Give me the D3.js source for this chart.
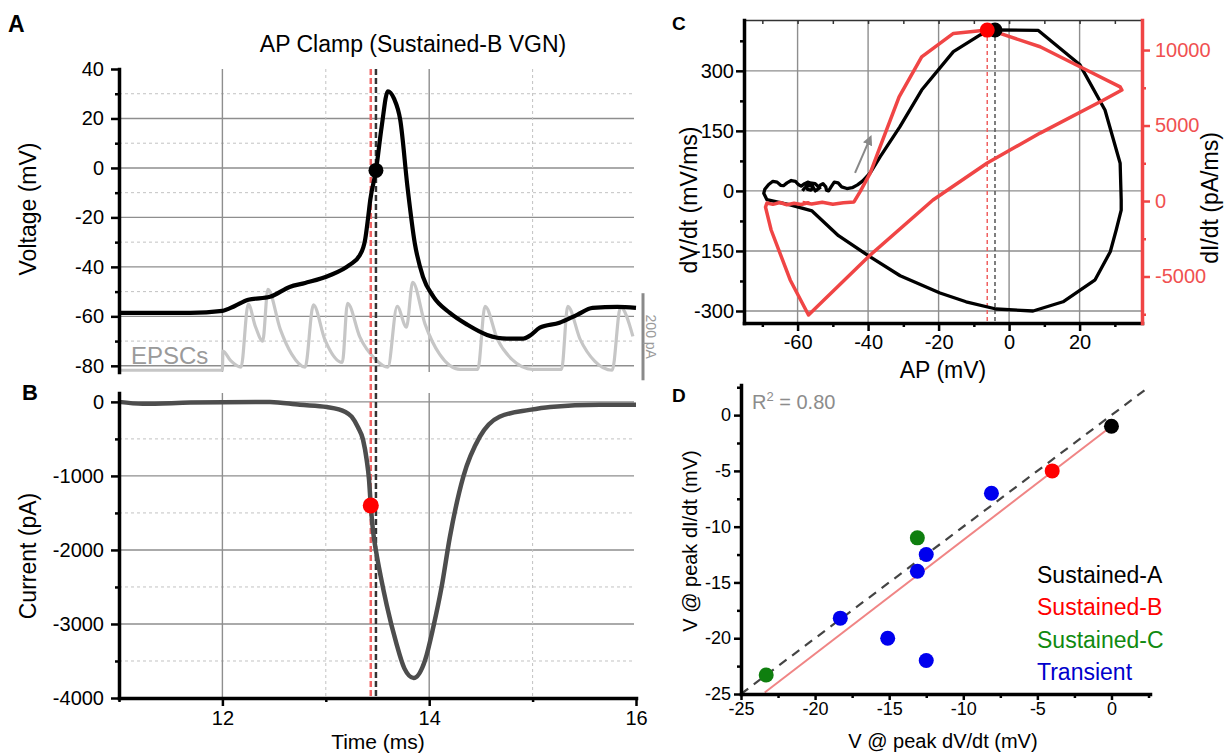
<!DOCTYPE html>
<html>
<head>
<meta charset="utf-8">
<title>AP clamp</title>
<script src="https://cdn.jsdelivr.net/npm/d3@7/dist/d3.min.js"></script>
<style>
  body { margin: 0; background: #fff; }
  text { font-family: "Liberation Sans", Arial, sans-serif; }
</style>
</head>
<body>
<svg id="chart" width="1225" height="755"></svg>
<script>
// ---- values ----

// A: command voltage (mV) against time (ms)
const apTime = [11.00, 11.69, 12.00, 12.12, 12.25, 12.46, 12.65, 12.80, 13.04, 13.23, 13.33, 13.38, 13.41, 13.43, 13.485, 13.54, 13.60, 13.66, 13.72, 13.79, 13.86, 13.94, 14.04, 14.20, 14.37, 14.56, 14.75, 14.91, 14.97, 15.07, 15.26, 15.43, 15.58, 15.82, 16.00];
const apVolt = [-58.6, -58.6, -57.8, -55.8, -53.3, -52.1, -48.1, -46.5, -43.4, -39.2, -35.2, -29.1, -19.8, -12.9, -1.0, 16.6, 31.0, 28.0, 19.4, -7.7, -30.3, -44.0, -52.0, -58.6, -63.4, -67.5, -69.0, -69.0, -67.9, -64.6, -62.6, -59.4, -56.6, -56.2, -56.6];

// A: EPSC template (pA, drawn upward) used to build the command
const epscTime = [11.00, 12.00, 12.005, 12.08, 12.18, 12.25, 12.32, 12.39, 12.44, 12.56, 12.67, 12.80, 12.88, 12.99, 13.16, 13.21, 13.33, 13.48, 13.60, 13.69, 13.78, 13.84, 13.96, 14.10, 14.30, 14.47, 14.54, 14.66, 14.80, 15.00, 15.28, 15.34, 15.46, 15.60, 15.77, 15.85, 15.97];
const epscAmp = [0, 0, 44, 22, 7, 152, 100, 67, 186, 94, 37, 7, 150, 71, 18, 154, 76, 25, 7, 147, 99, 202, 106, 37, 2, 2, 147, 71, 25, 2, 2, 147, 71, 21, 0, 145, 78];

// B: clamp current (pA)
const imTime = [11.00, 11.23, 11.69, 12.46, 12.75, 13.01, 13.19, 13.25, 13.31, 13.36, 13.395, 13.418, 13.435, 13.455, 13.49, 13.53, 13.59, 13.68, 13.76, 13.85, 13.96, 14.04, 14.12, 14.20, 14.33, 14.49, 14.68, 14.97, 15.17, 15.65, 16.00];
const imCurr = [0, -25, -10, 0, -40, -70, -135, -200, -340, -510, -780, -1050, -1400, -1720, -2050, -2350, -2750, -3250, -3600, -3730, -3490, -3040, -2500, -1825, -1010, -470, -200, -108, -68, -40, -40];

// times of peak dI/dt (red) and peak dV/dt (black)
const tPeakDI = 13.435, tPeakDV = 13.485;
const vAtPeakDV = -1, iAtPeakDI = -1400;

// C: phase plots, dV/dt (mV/ms) and dI/dt (pA/ms) against membrane voltage
const phaseV = [-58.6, -58.2, -57.2, -56.0, -55.2, -55.0, -54.4, -53.6, -52.8, -52.0, -51.8, -51.2, -50.5, -49.6, -48.5, -47.5, -46.0, -44.5, -43.0, -41.5, -39.4, -36.6, -31.0, -24.8, -15.8, -8.2, -4.0, 8.3, 20.1, 27.2, 31.5, 31.8, 31.8, 30.4, 28.7, 24.4, 15.3, 6.8, -3.7, -12.2, -19.6, -30.9, -39.4, -48.4, -55.9, -62.1, -68.7, -69.6, -69.3, -68.2, -67.0, -65.8, -64.8, -64.0, -63.0, -61.8, -60.6, -59.8, -59.0, -58.0, -57.0, -56.0, -55.5, -56.2, -57.2, -57.5, -56.5, -55.0, -54.0, -53.5];
const phaseDV = [0, 5, 14, 12, 4, 0, 3, 14, 18, 10, 2, 0, 10, 22, 20, 10, 6, 8, 15, 25, 45, 85, 160, 252, 348, 390, 402, 401, 315, 202, 69, -22, -48, -97, -152, -222, -277, -300, -295, -277, -255, -212, -165, -112, -50, -35, -22, -6, 4, 16, 24, 22, 14, 13, 20, 26, 24, 16, 12, 18, 22, 16, 8, 2, 4, 12, 20, 18, 10, 4];
const phaseIV = [-58.6, -56.0, -53.0, -50.0, -47.0, -44.0, -42.3, -39.4, -36.6, -31.2, -24.8, -15.8, -6.2, -2.6, 8.8, 20.1, 31.5, 32.0, 26.8, 8.8, -6.2, -21.6, -39.4, -56.9, -62.1, -67.5, -69.1, -68.7, -67.0, -65.0, -63.0, -61.0, -59.0, -57.0, -56.6];
const phaseDI = [-100, -200, -80, -220, -120, -60, 600, 1850, 3580, 6900, 9550, 11100, 11320, 11100, 10220, 8890, 7560, 7350, 6690, 4500, 2520, 66, -3580, -7550, -5230, -1920, -400, -130, -220, -100, -250, -150, -230, -120, -180];
const peakDV = [-4.0, 402];
const peakDI = [-6.2, 11320];

// D: voltage at peak dV/dt vs voltage at peak dI/dt, per cell
const groups = ["Sustained-A", "Sustained-B", "Sustained-C", "Transient"];
const groupColors = ["#000000", "#ff0000", "#0f7f0f", "#0000ee"];
const legendColors = ["#000000", "#ff0000", "#108a10", "#0000cc"];
const cellDV = [0, -4, -13.1, -23.3, -8.1, -12.5, -13.1, -18.3, -15.1, -12.5];
const cellDI = [-1, -5, -11, -23.3, -7, -12.5, -14, -18.2, -20, -22];
const cellGroup = [0, 1, 2, 2, 3, 3, 3, 3, 3, 3];
const fitSlope = 1.02, fitIntercept = -1.0, fitRange = [-23.4, 0];
const rSquared = "0.80";

// ticks
const aTicks = [-80, -60, -40, -20, 0, 20, 40], aMinor = [-70, -50, -30, -10, 10, 30];
const bTicks = [-4000, -3000, -2000, -1000, 0], bMinor = [-3500, -2500, -1500, -500];
const tTicks = [12, 14, 16], tMinor = [11, 13, 15];
const cxTicks = [-60, -40, -20, 0, 20], cxMinor = [-70, -50, -30, -10, 10, 30];
const cyTicks = [-300, -150, 0, 150, 300], cyMinor = [-225, -75, 75, 225, 375];
const crTicks = [-5000, 0, 5000, 10000], crMinor = [-7500, -2500, 2500, 7500];
const dTicks = [-25, -20, -15, -10, -5, 0], dMinor = [-22.5, -17.5, -12.5, -7.5, -2.5, 2.5];

// ---- drawing ----
const svg = d3.select("#chart");
const SANS = '"Liberation Sans", Arial, sans-serif';
const HUMAN = 'Lato, "Open Sans", sans-serif';

const xT = d3.scaleLinear().domain([11, 16]).range([119, 636]);
const yA = d3.scaleLinear().domain([-82.5, 40]).range([372, 69]);
const yB = d3.scaleLinear().domain([-4000, 120]).range([698, 393]);
const xC = d3.scaleLinear().domain([-75.2, 37.7]).range([744, 1142]);
const yC = d3.scaleLinear().domain([-330, 427]).range([323, 20]);
const yCR = d3.scaleLinear().domain([-8080, 11990]).range([323, 20]);
const xD = d3.scaleLinear().domain([-25, 2.6]).range([741, 1150]);
const yD = d3.scaleLinear().domain([-25, 2.7]).range([694, 385]);
// EPSC overlay: 200 pA spans 35.2 mV of the voltage axis, baseline at -81.8 mV
const yE = d3.scaleLinear().domain([0, 200]).range([yA(-81.8), yA(-81.8 + 35.2)]);

const fmt = d => String(d);

function grid(vals, scale, dir, a0, a1, dashed) {
  const h = dir === "h";
  svg.append("g").selectAll("line").data(vals).join("line")
    .attr(h ? "y1" : "x1", d => scale(d)).attr(h ? "y2" : "x2", d => scale(d))
    .attr(h ? "x1" : "y1", a0).attr(h ? "x2" : "y2", a1)
    .attr("stroke", dashed ? "#c2c2c2" : "#8e8e8e")
    .attr("stroke-width", dashed ? 1 : 1.4)
    .attr("stroke-dasharray", dashed ? "3,3" : null);
}

function axis(maker, scale, major, minor, tx, ty, o = {}) {
  const col = o.color || "#000";
  const g = svg.append("g").attr("transform", `translate(${tx},${ty})`);
  g.call(maker(scale).tickValues(major).tickSize(o.size ?? 8).tickSizeOuter(0)
    .tickPadding(o.pad ?? 5).tickFormat(o.noLabel ? "" : fmt));
  g.select(".domain").attr("stroke", col).attr("stroke-width", o.lw ?? 3.5).attr("stroke-linecap", "square");
  g.selectAll(".tick line").attr("stroke", col).attr("stroke-width", o.tw ?? 2.5);
  g.selectAll(".tick text").attr("fill", o.textColor || col).attr("font-size", o.fs || 20).attr("font-family", SANS);
  if (minor) {
    const m = svg.append("g").attr("transform", `translate(${tx},${ty})`);
    m.call(maker(scale).tickValues(minor).tickSize(o.minorSize ?? 4).tickSizeOuter(0).tickFormat(""));
    m.select(".domain").remove();
    m.selectAll(".tick line").attr("stroke", col).attr("stroke-width", o.tw ?? 2.5);
  }
  return g;
}

function label(txt, x, y, o = {}) {
  const t = svg.append("text").attr("x", x).attr("y", y).text(txt)
    .attr("font-size", o.fs || 22).attr("fill", o.fill || "#000")
    .attr("font-family", o.family || SANS)
    .attr("text-anchor", o.anchor || "middle");
  if (o.bold) t.attr("font-weight", "bold");
  if (o.rot) t.attr("transform", `rotate(${o.rot},${x},${y})`);
  return t;
}

// ----- panels A and B: grids -----
grid([-80, -60, -40, -20, 0, 20], yA, "h", 119, 634, false);
grid(aMinor, yA, "h", 119, 634, true);
grid([12, 14], xT, "v", 69, 372, false);
grid([13, 15], xT, "v", 69, 372, true);
grid([-3000, -2000, -1000, 0], yB, "h", 119, 634, false);
grid(bMinor, yB, "h", 119, 634, true);
grid([12, 14], xT, "v", 393, 698, false);
grid([13, 15], xT, "v", 393, 698, true);

// EPSC template
svg.append("path").datum(d3.zip(epscTime, epscAmp))
  .attr("d", d3.line().x(d => xT(d[0])).y(d => yE(d[1])).curve(d3.curveMonotoneX))
  .attr("fill", "none").attr("stroke", "#c6c6c6").attr("stroke-width", 3.2);
// 200 pA scale bar
svg.append("line").attr("x1", xT(16) + 7).attr("x2", xT(16) + 7)
  .attr("y1", yE(-23)).attr("y2", yE(177)).attr("stroke", "#8a8a8a").attr("stroke-width", 3);
label("200 pA", xT(16) + 10, (yE(-23) + yE(177)) / 2, { fs: 14, fill: "#9a9a9a", rot: 90 });
label("EPSCs", 131, 364, { fs: 24, fill: "#9a9a9a", anchor: "start" });

// peak markers through A and B
[[tPeakDI, "#f06464"], [tPeakDV, "#333"]].forEach(([t, c]) => {
  svg.append("line").attr("x1", xT(t)).attr("x2", xT(t)).attr("y1", yA(40)).attr("y2", yB(-4000))
    .attr("stroke", c).attr("stroke-width", 2.5).attr("stroke-dasharray", "6,3");
});

// voltage trace
svg.append("path").datum(d3.zip(apTime, apVolt))
  .attr("d", d3.line().x(d => xT(d[0])).y(d => yA(d[1])).curve(d3.curveMonotoneX))
  .attr("fill", "none").attr("stroke", "#000").attr("stroke-width", 4.2).attr("stroke-linejoin", "round");
svg.append("circle").attr("cx", xT(tPeakDV)).attr("cy", yA(vAtPeakDV)).attr("r", 7.5).attr("fill", "#000");

// current trace
svg.append("path").datum(d3.zip(imTime, imCurr))
  .attr("d", d3.line().x(d => xT(d[0])).y(d => yB(d[1])).curve(d3.curveMonotoneX))
  .attr("fill", "none").attr("stroke", "#4d4d4d").attr("stroke-width", 4.5).attr("stroke-linejoin", "round");
svg.append("circle").attr("cx", xT(tPeakDI)).attr("cy", yB(iAtPeakDI)).attr("r", 8).attr("fill", "#ff0000");

// axes A and B
axis(d3.axisLeft, yA, aTicks, aMinor, 119, 0, { pad: 7 });
axis(d3.axisLeft, yB, bTicks, bMinor, 119, 0, { pad: 7 });
axis(d3.axisBottom, xT, tTicks, tMinor, 0, 698, { pad: 5 });

label("AP Clamp (Sustained-B VGN)", 413, 52, { family: HUMAN, fs: 23 });
label("Voltage (mV)", 36, 209, { rot: -90, fs: 23 });
label("Current (pA)", 36, 556, { rot: -90, fs: 23 });
label("Time (ms)", 378, 749, { fs: 21 });
label("A", 8, 32, { bold: true, anchor: "start", fs: 23 });
label("B", 22, 400, { bold: true, anchor: "start", fs: 22 });

// ----- panel C -----
grid(cxTicks, xC, "v", 20, 323, false);
grid(cyTicks, yC, "h", 744, 1142, false);
svg.append("line").attr("x1", xC(peakDI[0])).attr("x2", xC(peakDI[0]))
  .attr("y1", yCR(peakDI[1])).attr("y2", 323)
  .attr("stroke", "#f06060").attr("stroke-width", 1.5).attr("stroke-dasharray", "4,3");
svg.append("line").attr("x1", xC(peakDV[0])).attr("x2", xC(peakDV[0]))
  .attr("y1", yC(peakDV[1])).attr("y2", 323)
  .attr("stroke", "#555").attr("stroke-width", 1.5).attr("stroke-dasharray", "4,3");

svg.append("path").datum(d3.zip(phaseV, phaseDV))
  .attr("d", d3.line().x(d => xC(d[0])).y(d => yC(d[1])))
  .attr("fill", "none").attr("stroke", "#000").attr("stroke-width", 3.3).attr("stroke-linejoin", "round");
svg.append("path").datum(d3.zip(phaseIV, phaseDI))
  .attr("d", d3.line().x(d => xC(d[0])).y(d => yCR(d[1])))
  .attr("fill", "none").attr("stroke", "#f04545").attr("stroke-width", 3.5).attr("stroke-linejoin", "round");
svg.append("circle").attr("cx", xC(peakDV[0])).attr("cy", yC(peakDV[1])).attr("r", 7.5).attr("fill", "#000");
svg.append("circle").attr("cx", xC(peakDI[0])).attr("cy", yCR(peakDI[1])).attr("r", 7.5).attr("fill", "#ff0000");

// direction arrow
svg.append("defs").append("marker").attr("id", "arr").attr("viewBox", "0 0 10 10")
  .attr("refX", 5).attr("refY", 5).attr("markerWidth", 5).attr("markerHeight", 5).attr("orient", "auto")
  .append("path").attr("d", "M0,0L10,5L0,10z").attr("fill", "#888");
svg.append("line").attr("x1", xC(-43.7)).attr("y1", yC(45)).attr("x2", xC(-39.6)).attr("y2", yC(128))
  .attr("stroke", "#888").attr("stroke-width", 2).attr("marker-end", "url(#arr)");

axis(d3.axisTop, xC, d3.merge([cxTicks, cxMinor]), null, 0, 20, { size: -4, noLabel: true, lw: 1.5, tw: 1.5, color: "#333" });
axis(d3.axisLeft, yC, cyTicks, cyMinor, 744, 0, { pad: 2 });
axis(d3.axisBottom, xC, cxTicks, cxMinor, 0, 323, { pad: 4 });
axis(d3.axisRight, yCR, crTicks, crMinor, 1142, 0, { pad: 5, color: "#f04545", textColor: "#f05050" });

label("dV/dt (mV/ms)", 697, 200, { rot: -90, fs: 23 });
label("dI/dt (pA/ms)", 1218, 198, { rot: -90, fs: 23 });
label("AP (mV)", 943, 378, { fs: 23 });
label("C", 672, 30, { bold: true, anchor: "start", fs: 19 });

// ----- panel D -----
svg.append("line").attr("x1", xD(-25)).attr("y1", yD(-25)).attr("x2", xD(2.5)).attr("y2", yD(2.5))
  .attr("stroke", "#444").attr("stroke-width", 2.2).attr("stroke-dasharray", "9,7");
svg.append("line")
  .attr("x1", xD(fitRange[0])).attr("y1", yD(fitSlope * fitRange[0] + fitIntercept))
  .attr("x2", xD(fitRange[1])).attr("y2", yD(fitSlope * fitRange[1] + fitIntercept))
  .attr("stroke", "#f08585").attr("stroke-width", 2);
svg.append("g").selectAll("circle").data(d3.range(cellDV.length)).join("circle")
  .attr("cx", i => xD(cellDV[i])).attr("cy", i => yD(cellDI[i])).attr("r", 7.5)
  .attr("fill", i => groupColors[cellGroup[i]]);

axis(d3.axisLeft, yD, dTicks, dMinor, 741, 0, { pad: 3, fs: 18, size: 7 });
axis(d3.axisBottom, xD, dTicks, dMinor, 0, 694, { pad: 2, fs: 18, size: 6 });

const r2 = svg.append("text").attr("x", 752).attr("y", 409).attr("font-size", 20).attr("fill", "#8c8c8c").attr("font-family", SANS);
r2.append("tspan").text("R");
r2.append("tspan").text("2").attr("font-size", 13).attr("dy", -8);
r2.append("tspan").text(" = " + rSquared).attr("dy", 8);

svg.append("g").selectAll("text").data(groups).join("text")
  .attr("x", 1037).attr("y", (d, i) => 583 + i * 32.3)
  .attr("font-family", HUMAN).attr("font-size", 23)
  .attr("fill", (d, i) => legendColors[i]).text(d => d);

label("V @ peak dI/dt (mV)", 697, 541, { rot: -90, fs: 20 });
label("V @ peak dV/dt (mV)", 943, 748, { fs: 20 });
label("D", 672, 402, { bold: true, anchor: "start", fs: 19 });
</script>
</body>
</html>
